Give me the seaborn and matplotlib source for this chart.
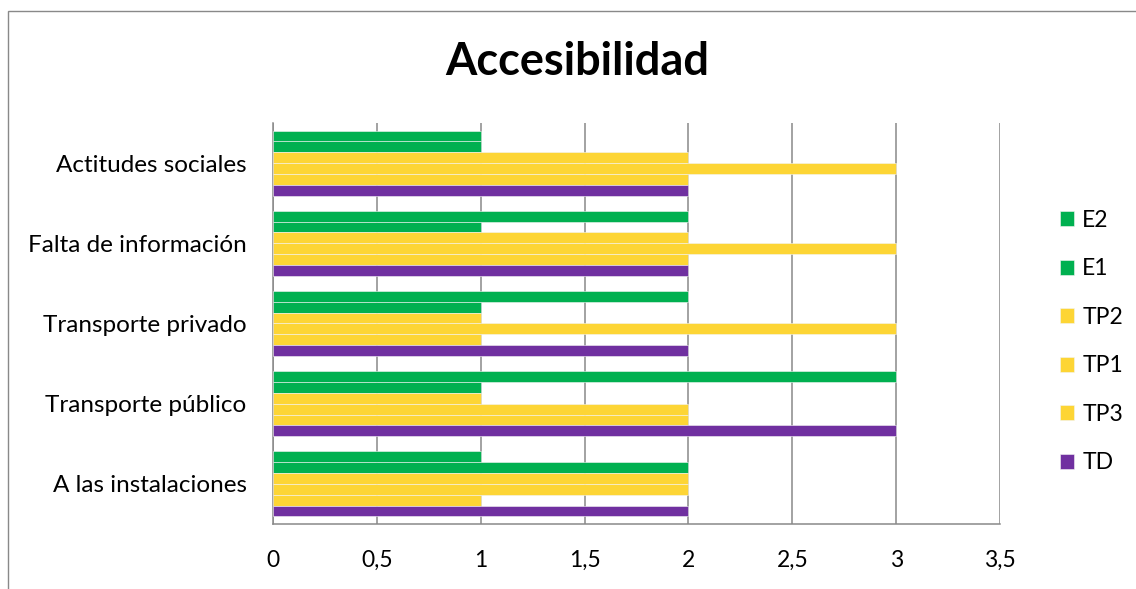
import matplotlib
matplotlib.use("Agg")
import matplotlib.pyplot as plt
import matplotlib.patches as mpatches
import seaborn as sns
import pandas as pd
import numpy as np

categories = ["Actitudes sociales", "Falta de información", "Transporte privado",
              "Transporte público", "A las instalaciones"]
series = ["E2", "E1", "TP2", "TP1", "TP3", "TD"]
E2 = [1, 2, 2, 3, 1]
E1 = [1, 1, 1, 1, 2]
TP2 = [2, 2, 1, 1, 2]
TP1 = [3, 3, 3, 2, 2]
TP3 = [2, 2, 1, 2, 1]
TD = [2, 2, 2, 3, 2]
values = {"E2": E2, "E1": E1, "TP2": TP2, "TP1": TP1, "TP3": TP3, "TD": TD}
colors = {"E2": "#00B050", "E1": "#00B050", "TP2": "#FDD535", "TP1": "#FDD535",
          "TP3": "#FDD535", "TD": "#7030A0"}
xticks = [0, 0.5, 1, 1.5, 2, 2.5, 3, 3.5]
xticklabels = ["0", "0,5", "1", "1,5", "2", "2,5", "3", "3,5"]

rows = []
for s in series:
    for c, v in zip(categories, values[s]):
        rows.append({"Categoria": c, "Serie": s, "Valor": v})
df = pd.DataFrame(rows)

sns.set_style("white")
plt.rcParams["font.family"] = ["Lato", "DejaVu Sans"]
plt.rcParams["text.color"] = "black"

fig = plt.figure(figsize=(11.36, 5.89), dpi=100)
ax = fig.add_axes([273/1136, 1 - 524/589, (1000-273)/1136, (524-123)/589])

sns.barplot(data=df, y="Categoria", x="Valor", hue="Serie", order=categories,
            hue_order=series, palette=colors, orient="h", width=0.81,
            edgecolor="#f4f4f4", linewidth=0.4, saturation=1, ax=ax, zorder=3)

gray = "#898989"
ax.set_xlim(0, 3.5)
ax.set_ylim(len(categories) - 0.5, -0.5)
ax.set_xticks(xticks)
ax.set_xticklabels(xticklabels, fontsize=16.5)
ax.set_yticks(range(len(categories)))
ax.set_yticklabels(categories, fontsize=17.5)
ax.set_yticks(np.arange(-0.5, len(categories)), minor=True)
ax.tick_params(axis="y", which="major", length=0, pad=19, labelcolor="black")
ax.tick_params(axis="y", which="minor", length=5.5, width=1.1, color=gray)
ax.tick_params(axis="x", which="major", length=6.5, width=1.1, color=gray, pad=12,
               labelcolor="black")
ax.set_xlabel("")
ax.set_ylabel("")
ax.grid(axis="x", color=gray, linewidth=1.1, zorder=0)
ax.set_axisbelow(True)
for sp in ["top", "right"]:
    ax.spines[sp].set_visible(False)
for sp in ["left", "bottom"]:
    ax.spines[sp].set_color(gray)
    ax.spines[sp].set_linewidth(1.1)
ax.spines["bottom"].set_zorder(4)

handles, labels = ax.get_legend_handles_labels()
leg = ax.legend(handles, labels, loc="center left", bbox_to_anchor=(1060/1136, 1 - 341.5/589),
                bbox_transform=fig.transFigure, frameon=False, fontsize=16.5,
                handlelength=0.62, handleheight=0.62, handletextpad=0.35, labelspacing=1.2,
                borderpad=0, borderaxespad=0)

fig.text(577/1136, 1 - 62/589, "Accesibilidad", ha="center", va="center",
         fontsize=32.5, fontweight="bold", color="black")

border = mpatches.Rectangle((8/1136, -0.1), 1.2, 1 - 11/589 + 0.1, transform=fig.transFigure,
                            fill=False, edgecolor=gray, linewidth=1.0)
fig.patches.append(border)

fig.savefig("out.png", dpi=100)
